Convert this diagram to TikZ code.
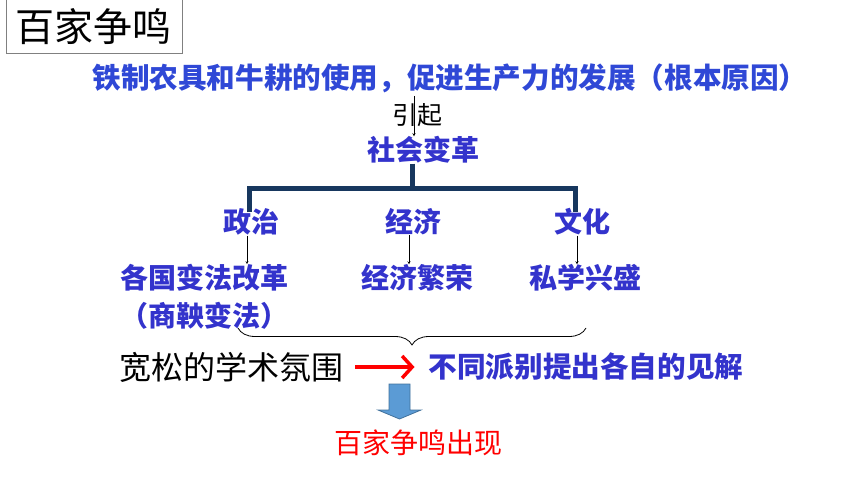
\documentclass[tikz,border=0pt]{standalone}
\usepackage{fontspec}
\setmainfont{Noto Sans CJK SC}
\usepackage{tikz}
\usetikzlibrary{arrows.meta, positioning, decorations.pathreplacing}
\definecolor{keyblue}{RGB}{51,51,204}
\definecolor{causeblue}{RGB}{47,72,214}
\definecolor{treenavy}{RGB}{23,55,94}
\definecolor{dropblue}{RGB}{91,155,213}
\definecolor{dropedge}{RGB}{65,113,156}

\begin{document}
\begin{tikzpicture} [x = 1pt, y = -1pt, on grid,
		key/.style = {keyblue, inner sep = 0pt, font = \fontsize{28}{38}\selectfont\bfseries},
		plain/.style = {black, inner sep = 0pt},
		branch/.style = {treenavy, line width = 5pt},
		link/.style = {-stealth, black, thin},
		push/.style = {-{Straight Barb[length = 10pt, width = 22pt]}, red, line width = 3.5pt},
		brace/.style = {decorate, decoration = {brace, mirror, amplitude = 17pt}, thick},
		drop/.style = {fill = dropblue, draw = dropedge, line width = 0.8pt}]
		% Help grid
		%	\draw [help lines] (0,0) grid (860,484);
		\useasboundingbox (0,0) rectangle (860,484);

		% Title
		\node (title) [draw = gray, line width = 1pt, minimum width = 176pt, minimum height = 54pt, inner sep = 0pt,
		font = \fontsize{39}{39}\selectfont] at (94,27) {百家争鸣};

		% Top Nodes : the chain hangs from the cause
		\node (cause) [key, causeblue, font = \fontsize{28.6}{28.6}\selectfont\bfseries] at (450,78)
		{铁制农具和牛耕的使用，促进生产力的发展（根本原因）};
		\node (lead) [plain, font = \fontsize{25}{25}\selectfont, below = 37pt of cause, xshift = -33pt] {引起};
		\node (reform) [key, below = 72pt of cause, xshift = -27pt] {社会变革};

		% Branch Nodes
		\node (economy) [key, below = 72pt of reform, xshift = -10pt] {经济};
		\node (politics) [key, left = 162pt of economy] {政治};
		\node (culture) [key, right = 169pt of economy] {文化};

		\node (boom) [key, below = 56pt of economy, xshift = 4pt] {经济繁荣};
		\node (school) [key, below = 56pt of culture, xshift = 3pt] {私学兴盛};
		\node (reforms) [key, align = center, below = 75pt of politics, xshift = -47pt] {各国变法改革\\（商鞅变法）};

		% Bottom Nodes
		\node (climate) [plain, font = \fontsize{32}{32}\selectfont] at (231,367) {宽松的学术氛围};
		\node (views) [key, font = \fontsize{28.6}{28.6}\selectfont\bfseries, right = 355pt of climate]
		{不同派别提出各自的见解};
		\node (outcome) [plain, red, font = \fontsize{28}{28}\selectfont] at (418,443) {百家争鸣出现};

		\coordinate (fork) at (412,189);
		\coordinate (braceL) at (238,328);
		\coordinate (braceR) at (586,328);
		\coordinate (drop) at (399.5,384);

		% Draw Arrows/Connections
		\draw [link, shorten <= 3pt] ([xshift = -36pt]cause.south) -- ([xshift = -9pt]reform.north);
		\draw [branch] (reform.south -| fork) -- (fork);
		\draw [branch, shorten <= -4pt, shorten >= -4pt] ([xshift = -2pt]politics.north) |- (fork)
		-| ([xshift = -7pt]culture.north);

		\draw [link] ([xshift = -4pt]politics.south) -- ([xshift = -4pt]politics.south |- reforms.north);
		\draw [link] ([xshift = -4pt]economy.south) -- ([xshift = -4pt]economy.south |- boom.north);
		\draw [link] ([xshift = -5pt]culture.south) -- ([xshift = -5pt]culture.south |- school.north);

		\draw [brace] (braceL) -- (braceR);
		\draw [push, shorten <= 12pt, shorten >= 14pt] (climate.east) -- (views.west);
		\filldraw [drop] ([xshift = -10.5pt]drop) -- ++(21,0) -- ++(0,26) -- ++(11,0) -- ++(-21.5,9)
		-- ++(-21.5,-9) -- ++(11,0) -- cycle;
	\end{tikzpicture}
\end{document}
